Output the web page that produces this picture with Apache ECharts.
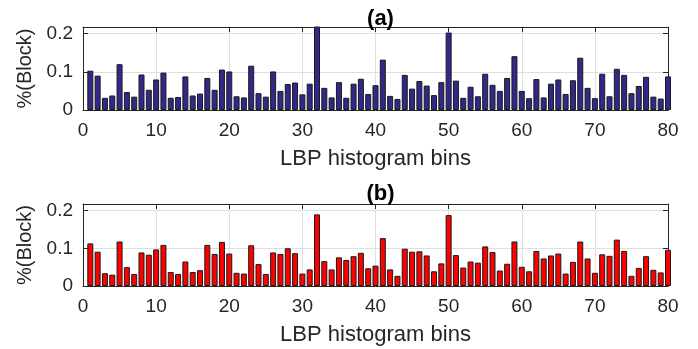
<!DOCTYPE html>
<html><head><meta charset="utf-8">
<script src="https://cdn.jsdelivr.net/npm/echarts@6/dist/echarts.min.js"></script>
<style>html,body{margin:0;padding:0;background:#fff}#c{width:698px;height:349px}</style>
</head><body><div id="c"></div>
<script>
const bins = Array.from({length: 80}, (_, i) => i + 1);
const valuesA = [0.103,0.090,0.032,0.038,0.120,0.047,0.035,0.093,0.053,0.080,
0.098,0.032,0.034,0.088,0.038,0.043,0.084,0.053,0.106,0.101,
0.036,0.033,0.116,0.044,0.035,0.101,0.050,0.068,0.072,0.041,
0.069,0.230,0.058,0.033,0.073,0.032,0.069,0.082,0.042,0.065,
0.132,0.037,0.029,0.092,0.056,0.076,0.064,0.039,0.073,0.203,
0.077,0.032,0.061,0.036,0.095,0.066,0.050,0.084,0.141,0.050,
0.031,0.081,0.033,0.069,0.080,0.042,0.078,0.137,0.058,0.031,
0.095,0.036,0.108,0.092,0.044,0.063,0.087,0.035,0.030,0.088];
const valuesB = [0.113,0.091,0.034,0.030,0.118,0.050,0.032,0.089,0.083,0.097,
0.109,0.037,0.032,0.065,0.037,0.042,0.109,0.085,0.117,0.086,
0.035,0.033,0.108,0.058,0.032,0.089,0.085,0.100,0.087,0.033,
0.044,0.190,0.066,0.044,0.076,0.069,0.079,0.088,0.047,0.054,
0.127,0.044,0.027,0.099,0.091,0.092,0.081,0.039,0.060,0.188,
0.082,0.049,0.065,0.062,0.105,0.090,0.041,0.059,0.118,0.051,
0.039,0.093,0.073,0.081,0.086,0.033,0.064,0.118,0.073,0.035,
0.084,0.080,0.123,0.093,0.027,0.048,0.079,0.043,0.036,0.096];
const xTicks = [0,10,20,30,40,50,60,70,80];
const yTicks = [0,0.1,0.2];
const titles = ['(a)','(b)'];
const xLabel = 'LBP histogram bins';
const yLabel = '%(Block)';

const FONT = '"Liberation Sans", Arial, Helvetica, sans-serif';
const TXT = '#262626';
const XMIN = xTicks[0], XMAX = xTicks[xTicks.length-1];
const YMAX = 0.2175;
const grids = [
  {left: 83, top: 27, width: 585, height: 83},
  {left: 83, top: 204, width: 585, height: 82}
];
const titleTops = [3, 178];
const colors = ['#31298A', '#FF0000'];
const datasets = [valuesA, valuesB];

const isTick = (arr, v) => arr.some(t => Math.abs(t - v) < 1e-9);

const option = {
  animation: false,
  backgroundColor: '#fff',
  textStyle: {fontFamily: FONT},
  title: titles.map((t, i) => ({
    text: t, left: 375.5, top: titleTops[i], textAlign: 'center',
    textStyle: {fontFamily: FONT, fontSize: 22, fontWeight: 'bold', color: '#000'}
  })),
  grid: grids,
  xAxis: [],
  yAxis: [],
  series: []
};

grids.forEach((g, i) => {
  option.xAxis.push({
    type: 'value', gridIndex: i, min: XMIN, max: XMAX, interval: 10, position: 'bottom',
    name: xLabel, nameLocation: 'middle', nameGap: 38,
    nameTextStyle: {fontFamily: FONT, fontSize: 22, color: TXT},
    axisLine: {show: true, onZero: false, lineStyle: {color: TXT, width: 1}},
    axisTick: {show: true, inside: true, length: 5, lineStyle: {color: TXT}},
    axisLabel: {fontFamily: FONT, fontSize: 19, color: TXT, margin: 11,
      formatter: v => isTick(xTicks, v) ? String(v) : ''},
    splitLine: {show: true, lineStyle: {color: '#DFDFDF', width: 1}}
  });
  option.xAxis.push({
    type: 'value', gridIndex: i, min: XMIN, max: XMAX, interval: 10, position: 'top',
    axisLine: {show: true, onZero: false, lineStyle: {color: TXT, width: 1}},
    axisTick: {show: true, inside: true, length: 5, lineStyle: {color: TXT}},
    axisLabel: {show: false}, splitLine: {show: false}
  });
  option.yAxis.push({
    type: 'value', gridIndex: i, min: 0, max: YMAX, interval: 0.1, position: 'left',
    name: yLabel, nameLocation: 'middle', nameGap: 39, nameRotate: 90,
    nameTextStyle: {fontFamily: FONT, fontSize: 20, color: TXT},
    axisLine: {show: true, onZero: false, lineStyle: {color: TXT, width: 1}},
    axisTick: {show: true, inside: true, length: 5, lineStyle: {color: TXT}},
    axisLabel: {fontFamily: FONT, fontSize: 19, color: TXT, margin: 10, showMaxLabel: false,
      formatter: v => isTick(yTicks, v) ? (v === 0 ? '0' : v.toFixed(1)) : ''},
    splitLine: {show: true, lineStyle: {color: '#DFDFDF', width: 1}}
  });
  option.yAxis.push({
    type: 'value', gridIndex: i, min: 0, max: YMAX, interval: 0.1, position: 'right',
    axisLine: {show: true, onZero: false, lineStyle: {color: TXT, width: 1}},
    axisTick: {show: true, inside: true, length: 5, lineStyle: {color: TXT}},
    axisLabel: {show: false}, splitLine: {show: false}
  });
  option.series.push({
    type: 'bar', xAxisIndex: i * 2, yAxisIndex: i * 2, clip: true,
    barWidth: 6,
    itemStyle: {color: colors[i], borderColor: '#1a1a1a', borderWidth: 1},
    data: bins.map((b, k) => [b, datasets[i][k]]),
    z: 1
  });
});

const chart = echarts.init(document.getElementById('c'), null, {renderer: 'canvas'});
chart.setOption(option);
</script></body></html>
